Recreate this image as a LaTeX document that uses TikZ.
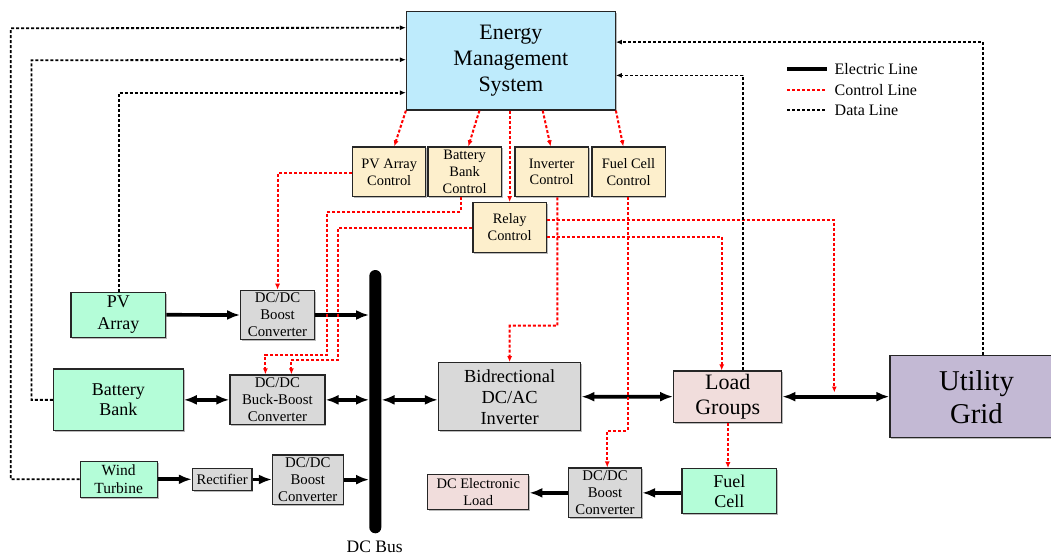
\documentclass[tikz,border=0pt]{standalone}
\usepackage{fontspec}
\setmainfont{Liberation Serif}
\newfontfamily\tnr{Liberation Serif}
\usetikzlibrary{arrows.meta,calc,shadows}
\definecolor{emsblue}{RGB}{190,235,252}
\definecolor{ctrlcream}{RGB}{253,239,204}
\definecolor{mintgreen}{RGB}{180,253,216}
\definecolor{boxgray}{RGB}{217,217,217}
\definecolor{loadpink}{RGB}{241,221,220}
\definecolor{gridlav}{RGB}{195,185,212}
\newcommand\myfs[2]{\tnr\fontsize{#1}{#2}\selectfont}
\begin{document}
\begin{tikzpicture}[x=1pt,y=-1pt,
  blk/.style={draw=black!85, line width=1.2pt, align=center, inner sep=0pt,
    drop shadow={shadow xshift=1.3pt,shadow yshift=-1.3pt,opacity=0.45,fill=black!60}},
  ctrl/.style={blk, fill=ctrlcream, minimum width=73.2pt, minimum height=49.7pt, font=\myfs{14.4}{17}},
  grn/.style={blk, fill=mintgreen},
  gry/.style={blk, fill=boxgray},
  pnk/.style={blk, fill=loadpink},
  conv/.style={gry, font=\myfs{14.8}{17}},
  elec/.style={line width=3.7pt},
  etip/.tip={Latex[length=13pt,width=10pt]},
  stip/.tip={Latex[length=6pt,width=5pt]},
  ctl/.style={red, line width=2pt, dash pattern=on 3pt off 2pt, -stip},
  dat/.style={black, line width=1.8pt, dash pattern=on 3pt off 2pt, -stip},
]
\useasboundingbox (0,0) rectangle (1051,555);

% ---- nodes ----
\node[blk, fill=emsblue, minimum width=208.8pt, minimum height=98.7pt, font=\myfs{22}{26}] (ems) at (510.9,60.65) {Energy\\Management\\System};

\node[ctrl] (pvc)  at (389.2,171.85)  {PV Array\\Control};
\node[ctrl] (bbc)  at (464.65,171.85) {Battery\\Bank\\Control};
\node[ctrl] (invc) at (551.65,171.85) {Inverter\\Control};
\node[ctrl] (fcc)  at (628.5,171.85)  {Fuel Cell\\Control};
\node[ctrl] (relc) at (509.65,227.5)  {Relay\\Control};

\node[grn, minimum width=94.7pt, minimum height=45pt, font=\myfs{18}{21.7}] (pv) at (118.35,314.8) {PV\\Array};
\node[grn, minimum width=129.8pt, minimum height=61.7pt, font=\myfs{18}{20.5}] (bat) at (118.3,399.85) {Battery\\Bank};
\node[grn, minimum width=77.1pt, minimum height=36pt, font=\myfs{15.5}{18}] (wind) at (118.65,479.3) {Wind\\Turbine};
\node[grn, minimum width=94.5pt, minimum height=45pt, font=\myfs{18}{20.3}] (fuel) at (729.25,491.2) {Fuel\\Cell};

\node[conv, minimum width=73.7pt, minimum height=49.4pt] (pvb) at (277.55,315) {DC/DC\\Boost\\Converter};
\node[conv, minimum width=95pt, minimum height=49.7pt] (bbconv) at (277.4,399.85) {DC/DC\\Buck-Boost\\Converter};
\node[gry, minimum width=59.5pt, minimum height=21.6pt, font=\myfs{14.6}{17}] (rect) at (222.15,479.5) {Rectifier};
\node[conv, minimum width=70.6pt, minimum height=49.3pt] (wb) at (307.8,479.65) {DC/DC\\Boost\\Converter};
\node[gry, minimum width=142.3pt, minimum height=68pt, font=\myfs{18.4}{21}] (inv) at (509.65,396.7) {Bidrectional\\DC/AC\\Inverter};
\node[conv, minimum width=73.1pt, minimum height=49.7pt] (fb) at (605.05,492.85) {DC/DC\\Boost\\Converter};

\node[pnk, minimum width=108pt, minimum height=51.3pt, font=\myfs{22}{25}] (load) at (727.7,396.65) {Load\\Groups};
\node[pnk, minimum width=101.1pt, minimum height=35pt, font=\myfs{14.5}{16.7}] (del) at (478.25,491.8) {DC Electronic\\Load};

\node[blk, fill=gridlav, minimum width=173pt, minimum height=82pt, font=\myfs{28.7}{33}] (grid) at (976.5,396.7) {Utility\\Grid};

\node[fill=black, minimum width=12pt, minimum height=263.3pt, rounded corners=6pt, inner sep=0pt] (bus) at (375.3,401.65) {};
\node[font=\myfs{17.5}{20}, inner sep=0pt] (buslbl) at (374.6,546.5) {DC Bus};

% ---- electric lines ----
\draw[elec,-etip] (pv.east) -- (pvb.west);
\draw[elec,-etip] (pvb.east) -- (pvb.east -| bus.west);
\draw[elec,etip-etip] (bat.east) -- (bat.east -| bbconv.west);
\draw[elec,etip-etip] (bbconv.east) -- (bbconv.east -| bus.west);
\draw[elec,etip-etip] (bus.east |- bbconv.east) -- (inv.west |- bbconv.east);
\draw[elec,-etip] (wind.east) -- (rect.west |- wind.east);
\draw[elec,-etip] (rect.east) -- (wb.west |- rect.east);
\draw[elec,-etip] (wb.east) -- (wb.east -| bus.west);
\draw[elec,etip-etip] (inv.east) -- (load.west);
\draw[elec,etip-etip] (load.east) -- (grid.west |- load.east);
\draw[elec,-etip] (fuel.west |- fb.east) -- (fb.east);
\draw[elec,-etip] (fb.west) -- (del.east |- fb.west);

% ---- control lines ----
\draw[ctl] (ems.south west) -- ($(pvc.north)+(5,0)$);
\draw[ctl] ($(ems.south west)+(73.5,0)$) -- ($(bbc.north)+(3.7,0)$);
\draw[ctl] (relc.north |- ems.south) -- (relc.north);
\draw[ctl] ($(ems.south west)+(136.8,0)$) -- ($(invc.north)+(-1,0)$);
\draw[ctl] (ems.south east) -- ($(fcc.north)+(-5.2,0)$);

\draw[ctl] ($(pvc.west)+(0,1.5)$) -| (pvb.north);
\draw[ctl] ($(bbc.south)+(-4,0)$) |- (326.9,212) -- (326.9,355) -| ($(bbconv.north)+(-12,0)$);
\draw[ctl] ($(relc.west)+(0,0.8)$) -| (338,360.3) -| ($(bbconv.north)+(14,0)$);
\coordinate (gridtap) at (834.3,392.5);
\draw[ctl] ($(relc.east)+(0,-7.5)$) -| (gridtap);
\draw[ctl] ($(relc.east)+(0,9.2)$) -| ($(load.north)+(-6,0)$);
\draw[ctl] ($(invc.south)+(5.7,0)$) -- (557.35,325.7) -| (inv.north);
\draw[ctl] ($(fcc.south)+(-1,0)$) -- (627.5,430.7) -| ($(fb.north)+(2.2,0)$);
\draw[ctl] ($(load.south)+(0.3,0)$) -- ($(load.south |- fuel.north)+(0.3,0)$);

% ---- data lines ----
\draw[dat] (wind.west) -| (10.8,28.3) -- ($(ems.north west)+(0,17)$);
\draw[dat] (bat.west) -| (31.4,60.3) -- ($(ems.north west)+(0,49)$);
\draw[dat] ($(pv.north)+(0.35,0)$) |- ($(ems.north west)+(0,82)$);
\draw[dat] ($(load.north)+(15.3,0)$) |- ($(ems.north east)+(0,64.7)$);
\draw[dat] ($(grid.north)+(6.2,0)$) |- ($(ems.north east)+(0,31.4)$);

% ---- legend ----
\coordinate (la1) at (787.4,69);   \coordinate (la2) at (826.8,69);
\coordinate (lb1) at (787.4,90);   \coordinate (lb2) at (826.8,90);
\coordinate (lc1) at (787.4,110.3);\coordinate (lc2) at (826.8,110.3);
\draw[line width=4.2pt] (la1) -- (la2);
\draw[red, line width=2pt, dash pattern=on 3pt off 2pt] (lb1) -- (lb2);
\draw[line width=1.8pt, dash pattern=on 3pt off 2pt] (lc1) -- (lc2);
\node[anchor=west, font=\myfs{16}{18}, inner sep=0pt] (lt1) at (834.5,69) {Electric Line};
\node[anchor=west, font=\myfs{16}{18}, inner sep=0pt] (lt2) at (834.5,90) {Control Line};
\node[anchor=west, font=\myfs{16}{18}, inner sep=0pt] (lt3) at (834.5,110.3) {Data Line};
\end{tikzpicture}
\end{document}
